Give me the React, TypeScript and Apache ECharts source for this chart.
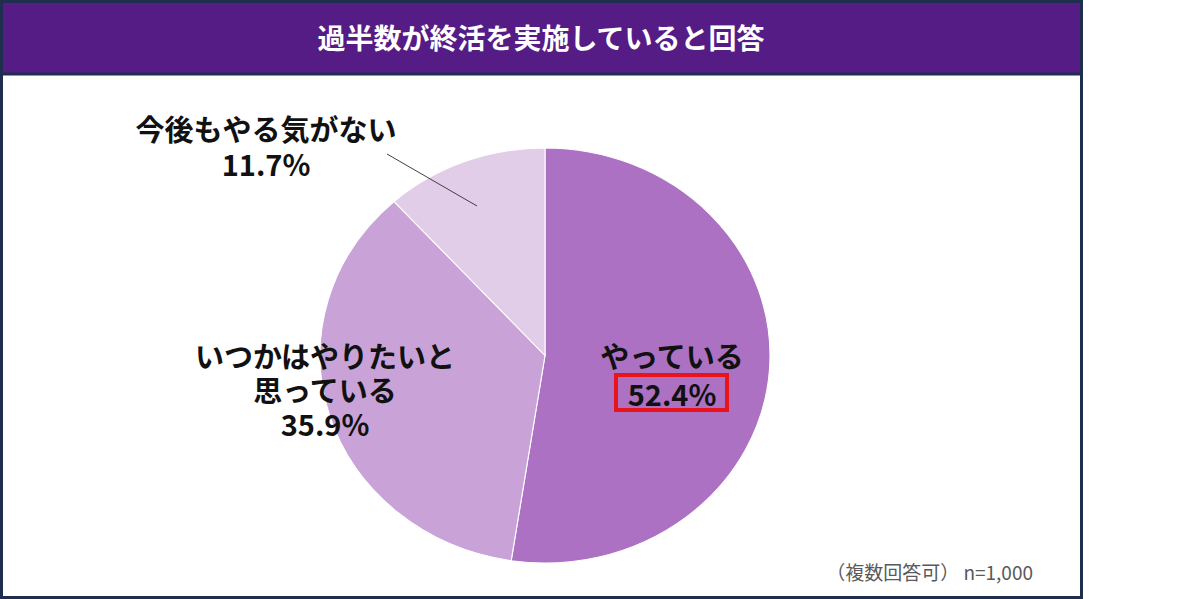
import React, { useEffect, useRef } from 'react';
import * as echarts from 'echarts';

const TITLE = '過半数が終活を実施していると回答';
const categories = ['やっている', 'いつかはやりたいと思っている', '今後もやる気がない'];
const labelLines = [['やっている'], ['いつかはやりたいと', '思っている'], ['今後もやる気がない']];
const values = [52.4, 35.9, 11.7];
const NOTE = '（複数回答可） n=1,000';

const colors = ['#AC71C3', '#C9A3D8', '#E1CDE8'];
const W = 1200;
const H = 599;
const CX = 545;
const CY = 355.5;
const RX = 225;
const RY = 207.5;
const FONT = '"Noto Sans CJK JP", "Noto Sans", sans-serif';
const NAVY = '#1F2D4E';
const PURPLE = '#561C86';

// label block centers and line heights
const labelPos = [
  { x: 672, y: 374, lh: 38 },
  { x: 325, y: 389, lh: 34 },
  { x: 266, y: 145.5, lh: 35 },
];

export default function App() {
  const pieRef = useRef<HTMLDivElement>(null);
  const topRef = useRef<HTMLDivElement>(null);

  useEffect(() => {
    const pie = echarts.init(pieRef.current!, null, { renderer: 'svg' });
    pie.setOption({
      animation: false,
      backgroundColor: 'transparent',
      series: [
        {
          type: 'pie',
          center: [CX, CY],
          radius: RY,
          startAngle: 90,
          clockwise: true,
          silent: true,
          label: { show: false },
          labelLine: { show: false },
          itemStyle: { borderColor: '#ffffff', borderWidth: 1 },
          data: categories.map((name, i) => ({
            name,
            value: values[i],
            itemStyle: { color: colors[i] },
          })),
        },
      ],
    });

    const top = echarts.init(topRef.current!, null, { renderer: 'svg' });
    const texts: any[] = labelLines.map((lines, i) => {
      const p = labelPos[i];
      return {
        type: 'text',
        x: p.x,
        y: p.y,
        style: {
          text: [...lines, `${values[i].toFixed(1)}%`].join('\n'),
          fill: '#111111',
          font: `bold 29px ${FONT}`,
          lineHeight: p.lh,
          textAlign: 'center',
          textVerticalAlign: 'middle',
        },
      };
    });

    top.setOption({
      animation: false,
      backgroundColor: 'transparent',
      graphic: [
        {
          type: 'rect',
          shape: { x: 1.5, y: 1.5, width: 1080, height: 596 },
          style: { fill: 'none', stroke: NAVY, lineWidth: 3 },
          silent: true,
        },
        {
          type: 'rect',
          shape: { x: 1.5, y: 1.5, width: 1080, height: 72.5 },
          style: { fill: PURPLE, stroke: NAVY, lineWidth: 3 },
          silent: true,
        },
        {
          type: 'text',
          x: 541,
          y: 37,
          style: {
            text: TITLE,
            fill: '#ffffff',
            font: `bold 28px ${FONT}`,
            textAlign: 'center',
            textVerticalAlign: 'middle',
          },
        },
        {
          type: 'line',
          shape: { x1: 387, y1: 154, x2: 477, y2: 206 },
          style: { stroke: '#404040', lineWidth: 1 },
          silent: true,
        },
        ...texts,
        {
          type: 'rect',
          shape: { x: 616, y: 375, width: 111, height: 35 },
          style: { fill: 'none', stroke: '#E8141C', lineWidth: 4 },
          silent: true,
        },
        {
          type: 'text',
          x: 1033,
          y: 571,
          style: {
            text: NOTE,
            fill: '#595959',
            font: `19px ${FONT}`,
            textAlign: 'right',
            textVerticalAlign: 'middle',
          },
        },
      ],
    });

    return () => {
      pie.dispose();
      top.dispose();
    };
  }, []);

  return (
    <div
      style={{
        position: 'fixed',
        left: 0,
        top: 0,
        width: W,
        height: H,
        overflow: 'hidden',
        background: '#ffffff',
      }}
    >
      <div
        ref={pieRef}
        style={{
          position: 'absolute',
          left: 0,
          top: 0,
          width: W,
          height: H,
          transform: `scaleX(${RX / RY})`,
          transformOrigin: `${CX}px ${CY}px`,
        }}
      />
      <div
        ref={topRef}
        style={{ position: 'absolute', left: 0, top: 0, width: W, height: H }}
      />
    </div>
  );
}
